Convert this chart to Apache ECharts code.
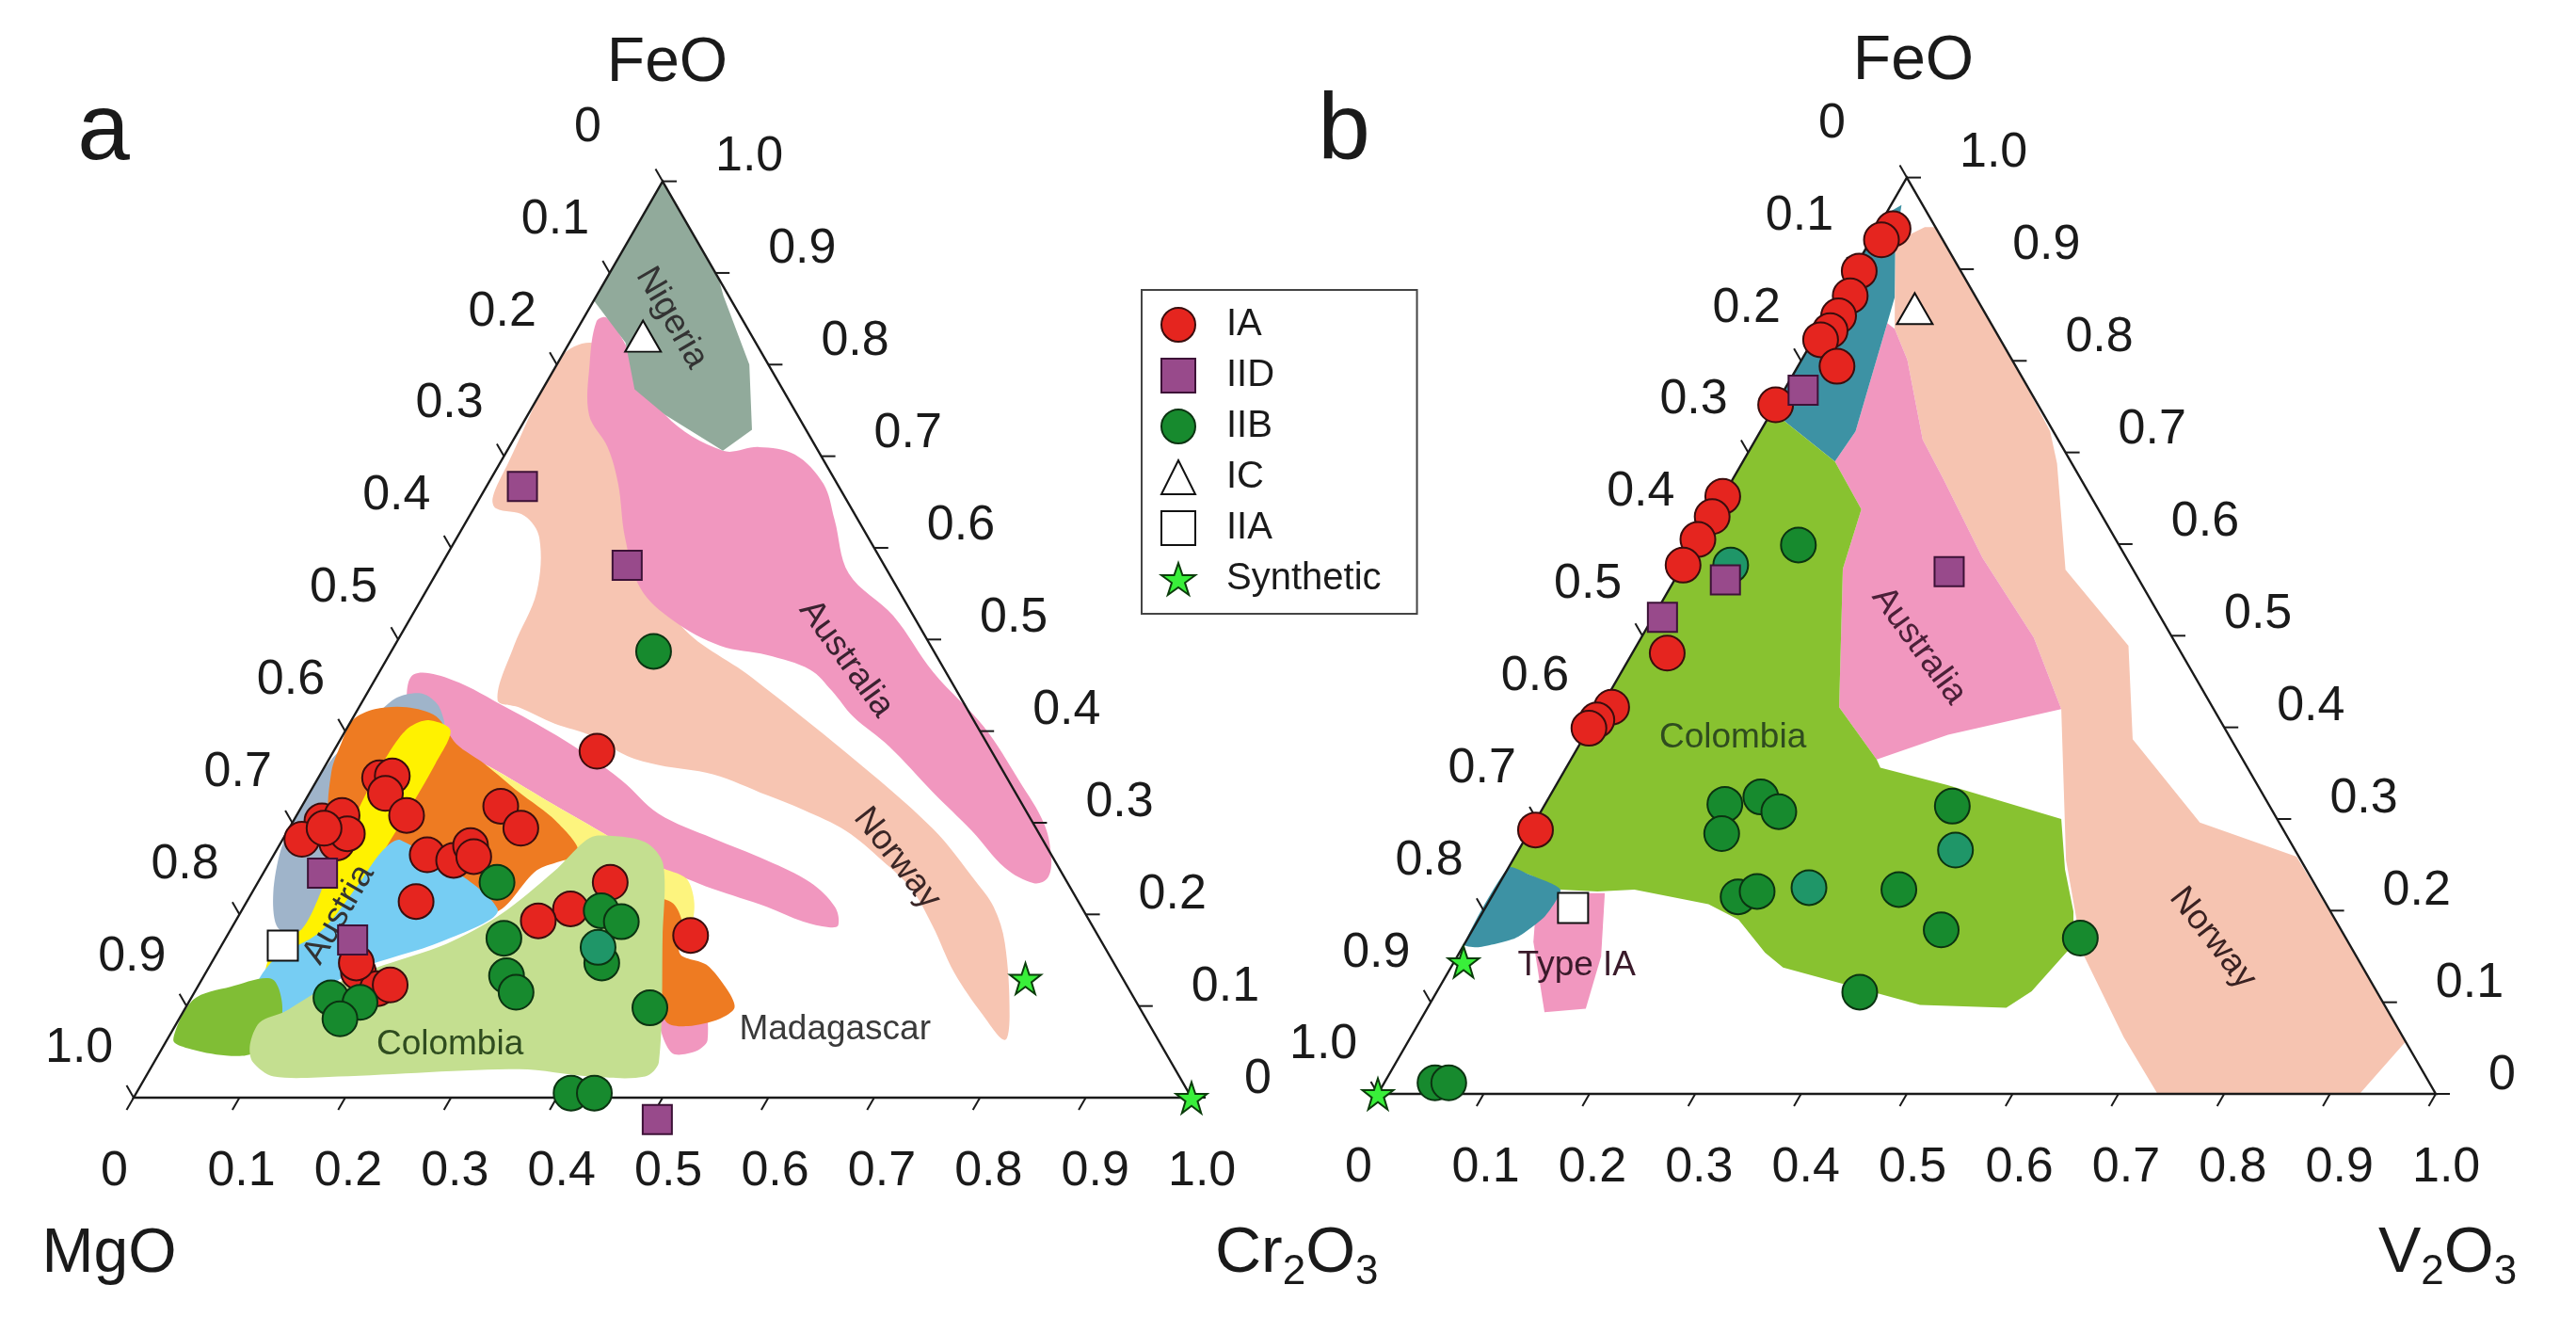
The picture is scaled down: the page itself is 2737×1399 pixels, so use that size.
<!DOCTYPE html>
<html>
<head>
<meta charset="utf-8">
<title>FeO - MgO - Cr2O3 / V2O3 ternary plots</title>
<script src="https://cdn.jsdelivr.net/npm/echarts@6/dist/echarts.min.js"></script>
<style>
html, body { margin: 0; padding: 0; background: #fff; }
#chart { width: 2737px; height: 1399px; }
</style>
</head>
<body>
<div id="chart"></div>
<script>
var FONT = '"Liberation Sans", Arial, Helvetica, sans-serif';

// values along each edge of the triangles
var ticks = [0, 0.1, 0.2, 0.3, 0.4, 0.5, 0.6, 0.7, 0.8, 0.9, 1.0];
var tickLabels = ['0', '0.1', '0.2', '0.3', '0.4', '0.5', '0.6', '0.7', '0.8', '0.9', '1.0'];

// panel a compositions: [Cr2O3, FeO], MgO is the rest
var iaA = [[0.249, 0.378], [0.058, 0.349], [0.069, 0.351], [0.072, 0.332], [0.104, 0.308],
  [0.027, 0.302], [0.043, 0.308], [0.018, 0.282], [0.053, 0.278], [0.058, 0.288], [0.033, 0.294],
  [0.188, 0.318], [0.219, 0.294], [0.145, 0.265], [0.173, 0.259], [0.181, 0.275], [0.190, 0.263],
  [0.160, 0.214], [0.333, 0.235], [0.310, 0.206], [0.286, 0.193], [0.438, 0.177],
  [0.144, 0.137], [0.171, 0.119], [0.181, 0.123], [0.137, 0.147]];
var iidA = [[0.034, 0.667], [0.176, 0.581], [0.056, 0.245], [0.121, 0.172], [0.507, -0.024]];
var iibA = [[0.248, 0.487], [0.226, 0.235], [0.263, 0.174], [0.286, 0.133], [0.304, 0.115],
  [0.340, 0.204], [0.365, 0.192], [0.369, 0.147], [0.439, 0.098], [0.132, 0.109],
  [0.162, 0.104], [0.152, 0.086], [0.411, 0.005], [0.433, 0.005]];
var iibTealA = [[0.357, 0.164]];
var icA = [[0.066, 0.831]];
var iiaA = [[0.058, 0.166]];
var synA = [[0.778, 0.130], [1.0, 0.0]];

// panel b compositions: [V2O3, FeO], MgO is the rest
var iaB = [[0.015, 0.944], [0.010, 0.932], [0.006, 0.898], [0.011, 0.871], [0.011, 0.849],
  [0.011, 0.833], [0.007, 0.823], [0.037, 0.794], [0.0, 0.752], [0.0, 0.652], [0.001, 0.630],
  [0.0, 0.605], [0.0, 0.577], [0.033, 0.481], [0.010, 0.422], [0.003, 0.408], [0.0, 0.399],
  [0.005, 0.288]];
var iidB = [[0.018, 0.768], [0.048, 0.561], [0.009, 0.520], [0.255, 0.570]];
var iibB = [[0.098, 0.599], [0.170, 0.316], [0.200, 0.324], [0.225, 0.308], [0.183, 0.284],
  [0.233, 0.215], [0.248, 0.221], [0.381, 0.223], [0.400, 0.111], [0.048, 0.012],
  [0.061, 0.012], [0.386, 0.314], [0.443, 0.179], [0.579, 0.170]];
var iibTealB = [[0.045, 0.577], [0.295, 0.225], [0.413, 0.266]];
var icB = [[0.079, 0.857]];
var iiaB = [[0.083, 0.203]];
var synB = [[0.009, 0.144], [0.0, 0.0]];

// occurrence fields, panel a
var salmonA = [[0.019, 0.824], [0, 0.808], [0.008, 0.69], [0.012, 0.655], [0.021, 0.643], [0.052, 0.635],
  [0.078, 0.611], [0.105, 0.552], [0.113, 0.493], [0.127, 0.434], [0.151, 0.426], [0.194, 0.408],
  [0.235, 0.395], [0.280, 0.373], [0.315, 0.363], [0.371, 0.353], [0.434, 0.330], [0.476, 0.314],
  [0.528, 0.291], [0.578, 0.259], [0.621, 0.228], [0.661, 0.188], [0.707, 0.137], [0.758, 0.090],
  [0.792, 0.063], [0.783, 0.090], [0.739, 0.169], [0.709, 0.208], [0.678, 0.236], [0.608, 0.294],
  [0.486, 0.376], [0.356, 0.458], [0.254, 0.520], [0.167, 0.623], [0.088, 0.746], [0.048, 0.808]];
var australiaA = [[0.022, 0.851], [0.060, 0.816], [0.130, 0.745], [0.204, 0.706], [0.236, 0.710],
  [0.274, 0.702], [0.317, 0.670], [0.347, 0.631], [0.390, 0.572], [0.455, 0.526], [0.524, 0.464],
  [0.601, 0.405], [0.664, 0.346], [0.712, 0.298], [0.738, 0.259], [0.744, 0.239], [0.734, 0.234],
  [0.698, 0.251], [0.647, 0.291], [0.588, 0.334], [0.523, 0.383], [0.472, 0.416], [0.438, 0.444],
  [0.406, 0.467], [0.357, 0.483], [0.308, 0.493], [0.249, 0.521], [0.201, 0.556], [0.159, 0.611],
  [0.123, 0.670], [0.093, 0.710], [0.058, 0.745], [0.031, 0.800], [0.014, 0.847]];
var nigeriaA = [[0, 1], [0, 0.87], [0.053, 0.824], [0.087, 0.773], [0.130, 0.745], [0.204, 0.706],
  [0.220, 0.729], [0.182, 0.800], [0.120, 0.875], [0.106, 0.894]];
var madagascarBandA = [[0.034, 0.462], [0.073, 0.456], [0.141, 0.425], [0.212, 0.390], [0.287, 0.347],
  [0.341, 0.310], [0.406, 0.283], [0.469, 0.259], [0.522, 0.235], [0.559, 0.208], [0.572, 0.188],
  [0.564, 0.186], [0.537, 0.192], [0.495, 0.208], [0.433, 0.228], [0.403, 0.239], [0.371, 0.252],
  [0.299, 0.289], [0.227, 0.325], [0.156, 0.361], [0.099, 0.386], [0.066, 0.407], [0.042, 0.433]];
var madagascarBlobA = [[0.416, 0.171], [0.477, 0.119], [0.511, 0.063], [0.505, 0.050], [0.484, 0.049], [0.452, 0.088]];
var greyA = [[0.030, 0.436], [0.052, 0.441], [0.075, 0.427], [0.094, 0.397], [0.067, 0.325], [0.086, 0.181],
  [0.062, 0.176], [0.041, 0.188], [0.020, 0.224], [0.004, 0.270], [0, 0.306], [0.002, 0.366], [0.017, 0.407]];
var paleA = [[0.065, 0.417], [0.099, 0.386], [0.156, 0.361], [0.227, 0.325], [0.299, 0.289], [0.371, 0.252],
  [0.403, 0.239], [0.424, 0.212], [0.432, 0.186], [0.409, 0.176], [0.332, 0.222], [0.225, 0.294],
  [0.137, 0.345], [0.091, 0.376]];
var orangeA = [[0.001, 0.412], [0.016, 0.424], [0.045, 0.426], [0.078, 0.416], [0.112, 0.386], [0.150, 0.364],
  [0.198, 0.333], [0.248, 0.302], [0.286, 0.268], [0.257, 0.248], [0.242, 0.203], [0.195, 0.212],
  [0.146, 0.237], [0.101, 0.258], [0.061, 0.284], [0.033, 0.304], [0.009, 0.356], [0.003, 0.386]];
var orange2A = [[0.385, 0.216], [0.404, 0.212], [0.423, 0.191], [0.438, 0.157], [0.469, 0.145], [0.503, 0.117],
  [0.519, 0.098], [0.511, 0.086], [0.485, 0.078], [0.463, 0.082], [0.442, 0.109], [0.407, 0.171]];
var austriaA = [[0.073, 0.412], [0.099, 0.401], [0.103, 0.365], [0.103, 0.310], [0.102, 0.270], [0.101, 0.239],
  [0.102, 0.196], [0.112, 0.156], [0.111, 0.137], [0.088, 0.129], [0.059, 0.133], [0.051, 0.156],
  [0.053, 0.173], [0.067, 0.184], [0.066, 0.216], [0.059, 0.255], [0.056, 0.302], [0.053, 0.349],
  [0.054, 0.388], [0.059, 0.405]];
var blueA = [[0.112, 0.281], [0.241, 0.206], [0.207, 0.171], [0.142, 0.140], [0.113, 0.109], [0.092, 0.088],
  [0.083, 0.063], [0.069, 0.068], [0.055, 0.109], [0.057, 0.150], [0.086, 0.181], [0.096, 0.232], [0.100, 0.268]];
var darkGreenA = [[0.006, 0.063], [0.003, 0.107], [0.031, 0.121], [0.067, 0.129], [0.096, 0.088],
  [0.089, 0.049], [0.064, 0.046], [0.024, 0.054]];
var colombiaA = [[0.296, 0.286], [0.344, 0.279], [0.373, 0.255], [0.412, 0.176], [0.477, 0.039], [0.472, 0.023],
  [0.420, 0.023], [0.349, 0.031], [0.182, 0.023], [0.121, 0.023], [0.093, 0.039], [0.081, 0.058],
  [0.078, 0.082], [0.096, 0.094], [0.118, 0.117], [0.157, 0.141], [0.212, 0.168], [0.247, 0.200],
  [0.274, 0.247], [0.286, 0.279]];

// occurrence fields, panel b
var norwayB = [[0.024, 0.930], [0.044, 0.946], [0.054, 0.946], [0.21, 0.79], [0.274, 0.723], [0.298, 0.688],
  [0.364, 0.572], [0.465, 0.489], [0.520, 0.387], [0.629, 0.296], [0.739, 0.259], [0.80, 0.199],
  [0.943, 0.057], [0.928, 0], [0.737, 0], [0.674, 0.062], [0.589, 0.154], [0.523, 0.255], [0.436, 0.420],
  [0.371, 0.498], [0.279, 0.585], [0.199, 0.671], [0.158, 0.714], [0.100, 0.801], [0.071, 0.835]];
var australiaB = [[0.071, 0.835], [0.100, 0.801], [0.158, 0.714], [0.199, 0.671], [0.279, 0.585], [0.371, 0.498],
  [0.436, 0.420], [0.343, 0.392], [0.289, 0.365], [0.225, 0.422], [0.153, 0.573], [0.138, 0.638],
  [0.087, 0.690], [0.090, 0.723], [0.075, 0.784], [0.061, 0.841]];
var tealTopB = [[0.01, 0.97], [0.026, 0.926], [0.054, 0.869], [0.061, 0.841], [0.075, 0.784], [0.090, 0.723],
  [0.087, 0.690], [0, 0.745], [0, 0.96]];
var colombiaB = [[0, 0.745], [0.087, 0.690], [0.138, 0.638], [0.153, 0.573], [0.225, 0.422], [0.289, 0.365],
  [0.297, 0.356], [0.370, 0.337], [0.496, 0.300], [0.527, 0.245], [0.558, 0.199], [0.576, 0.163],
  [0.562, 0.112], [0.547, 0.094], [0.464, 0.097], [0.314, 0.138], [0.289, 0.154], [0.246, 0.190],
  [0.209, 0.207], [0.131, 0.223], [0.097, 0.221], [0.061, 0.223], [0.024, 0.239], [0, 0.247]];
var typeIAB = [[0.041, 0.219], [0.105, 0.219], [0.136, 0.150], [0.150, 0.093], [0.113, 0.089], [0.064, 0.166]];
var tealLowB = [[0, 0.247], [0.024, 0.239], [0.061, 0.223], [0.061, 0.194], [0.045, 0.170], [0.015, 0.160], [0, 0.163]];

// field names and where they are written
var fieldNamesA = ['Nigeria', 'Australia', 'Norway', 'Madagascar', 'Colombia', 'Austria'];
var fieldAnchorsA = [[0.083, 0.851], [0.434, 0.479], [0.591, 0.261], [0.626, 0.074], [0.270, 0.058], [0.094, 0.200]];
var fieldAnglesA = [-60, -54, -52, 0, 0, 60];
var fieldNamesB = ['Colombia', 'Australia', 'Norway', 'Type IA'];
var fieldAnchorsB = [[0.141, 0.389], [0.267, 0.489], [0.704, 0.170], [0.118, 0.140]];
var fieldAnglesB = [0, -54, -52, 0];

// ternary -> cartesian (x along the base, y = FeO height)
function tern(p) {
  return [p[0] + p[1] / 2, p[1]];
}

var regionOrder = 0;
function regionSeries(panel, pts, color, smooth) {
  var order = regionOrder++;
  return {
    type: 'custom', xAxisIndex: panel, yAxisIndex: panel, silent: true, z: 1,
    data: [[0, 0]],
    renderItem: function (params, api) {
      var points = pts.map(function (p) { return api.coord(tern(p)); });
      return {
        type: 'polygon', z2: order,
        shape: { points: points, smooth: smooth },
        style: { fill: color }
      };
    }
  };
}

function frameSeries(panel) {
  return {
    type: 'custom', xAxisIndex: panel, yAxisIndex: panel, silent: true, z: 3,
    data: [[0, 0]],
    renderItem: function (params, api) {
      var kids = [];
      var A = api.coord(tern([0, 0])), B = api.coord(tern([1, 0])), C = api.coord(tern([0, 1]));
      kids.push({ type: 'polygon', shape: { points: [A, B, C] }, style: { fill: 'none', stroke: '#1a1a1a', lineWidth: 2.4 } });
      function tick(p, dx, dy) {
        kids.push({ type: 'line', shape: { x1: p[0], y1: p[1], x2: p[0] + dx, y2: p[1] + dy }, style: { stroke: '#1a1a1a', lineWidth: 2 } });
      }
      function label(s, x, y) {
        kids.push({ type: 'text', style: { text: s, x: x, y: y, fontSize: 52, fontFamily: FONT, fill: '#1a1a1a', align: 'left', verticalAlign: 'middle' } });
      }
      ticks.forEach(function (t, i) {
        var pb = api.coord(tern([t, 0]));
        tick(pb, -7.5, 13);
        label(tickLabels[i], pb[0] - 35 + 10 * t, pb[1] + 79);
        var pl = api.coord(tern([0, 1 - t]));
        tick(pl, -7.5, -13);
        label(tickLabels[i], pl[0] - 94, pl[1] - 57 + 5 * t);
        var pr = api.coord(tern([1 - t, t]));
        tick(pr, 15, 0);
        label(tickLabels[i], pr[0] + 56, pr[1] - 19 - 6.5 * t);
      });
      return { type: 'group', children: kids };
    }
  };
}

function fieldLabelSeries(panel, names, anchors, angles, colors) {
  return {
    type: 'custom', xAxisIndex: panel, yAxisIndex: panel, silent: true, z: 4,
    data: names.map(function (n, i) { return tern(anchors[i]); }),
    renderItem: function (params, api) {
      var i = params.dataIndex;
      var p = api.coord([api.value(0), api.value(1)]);
      return {
        type: 'text', x: p[0], y: p[1], rotation: angles[i] * Math.PI / 180,
        style: { text: names[i], fontSize: 37, fontFamily: FONT, fill: colors[i], align: 'center', verticalAlign: 'middle' }
      };
    }
  };
}

var STAR = 'path://M50,2 L61.8,36.2 L97.6,36.2 L68.6,57.4 L79.6,91.6 L50,70.4 L20.4,91.6 L31.4,57.4 L2.4,36.2 L38.2,36.2 Z';
var marks = {
  IA: { symbol: 'circle', size: 37, color: '#e5251f', border: '#3a0d0d' },
  IID: { symbol: 'rect', size: 31, color: '#984a8b', border: '#3d1237' },
  IIB: { symbol: 'circle', size: 37, color: '#178a2e', border: '#0b3311' },
  IIBteal: { symbol: 'circle', size: 37, color: '#1f9668', border: '#0b3311' },
  IC: { symbol: 'triangle', size: [38, 33], color: '#ffffff', border: '#111111' },
  IIA: { symbol: 'rect', size: 32, color: '#ffffff', border: '#111111' },
  Synthetic: { symbol: STAR, size: 33, color: '#39ef3a', border: '#0b3d0b' }
};

function pointSeries(name, panel, pts, key) {
  var m = marks[key || name];
  return {
    name: name, type: 'scatter', xAxisIndex: panel, yAxisIndex: panel, clip: false, z: 5,
    symbol: m.symbol, symbolSize: m.size,
    itemStyle: { color: m.color, borderColor: m.border, borderWidth: 2, opacity: 1 },
    emphasis: { disabled: true },
    data: pts.map(tern)
  };
}

var series = [
  // panel a fields
  regionSeries(0, salmonA, '#f7c5b2', 0.35),
  regionSeries(0, australiaA, '#f197bf', 0.35),
  regionSeries(0, nigeriaA, '#91aa9b', 0),
  regionSeries(0, madagascarBandA, '#f197bf', 0.35),
  regionSeries(0, madagascarBlobA, '#f197bf', 0.3),
  regionSeries(0, greyA, '#9fb4ca', 0.3),
  regionSeries(0, paleA, '#fdf47e', 0.3),
  regionSeries(0, orangeA, '#ee7b22', 0.3),
  regionSeries(0, orange2A, '#ee7b22', 0.3),
  regionSeries(0, austriaA, '#fff200', 0.3),
  regionSeries(0, blueA, '#76cdf3', 0.3),
  regionSeries(0, darkGreenA, '#80be35', 0.3),
  regionSeries(0, colombiaA, '#c4df90', 0.3),
  // panel b fields
  regionSeries(1, norwayB, '#f6c4b1', 0),
  regionSeries(1, australiaB, '#f197bf', 0),
  regionSeries(1, tealTopB, '#3d92a4', 0),
  regionSeries(1, colombiaB, '#88c230', 0),
  regionSeries(1, typeIAB, '#f197bf', 0),
  regionSeries(1, tealLowB, '#3d92a4', 0.2),
  frameSeries(0),
  frameSeries(1),
  fieldLabelSeries(0, fieldNamesA, fieldAnchorsA, fieldAnglesA, ['#333333', '#3a2230', '#3a2626', '#3a3a3a', '#2f4c1f', '#333333']),
  fieldLabelSeries(1, fieldNamesB, fieldAnchorsB, fieldAnglesB, ['#2f4c1f', '#4b2038', '#3a2222', '#3a1a2a']),
  pointSeries('IA', 0, iaA),
  pointSeries('IID', 0, iidA),
  pointSeries('IIB', 0, iibA),
  pointSeries('IIB', 0, iibTealA, 'IIBteal'),
  pointSeries('IC', 0, icA),
  pointSeries('IIA', 0, iiaA),
  pointSeries('Synthetic', 0, synA),
  pointSeries('IIB', 1, iibB),
  pointSeries('IIB', 1, iibTealB, 'IIBteal'),
  pointSeries('IA', 1, iaB),
  pointSeries('IID', 1, iidB),
  pointSeries('IC', 1, icB),
  pointSeries('IIA', 1, iiaB),
  pointSeries('Synthetic', 1, synB)
];

function titleText(x, y, text, size, align) {
  return { type: 'text', x: x, y: y, silent: true, style: { text: text, fontSize: size, fontFamily: FONT, fill: '#1a1a1a', align: align || 'center', verticalAlign: 'middle' } };
}
// oxide name with subscripts, written piece by piece from its left edge
function formula(x, y, parts) {
  var els = [];
  var cx = x;
  parts.forEach(function (s, i) {
    var sub = i % 2 === 1;
    var size = sub ? 44 : 68;
    els.push(titleText(cx, sub ? y + 20 : y, s, size, 'left'));
    cx += echarts.format.getTextRect ? echarts.format.getTextRect(s, size + 'px ' + FONT).width : s.length * size * 0.6;
  });
  return els;
}

var chart = echarts.init(document.getElementById('chart'), null, { renderer: 'canvas' });
chart.setOption({
  animation: false,
  backgroundColor: '#ffffff',
  grid: [
    { left: 142, top: 192.6, width: 1124, height: 973.4 },
    { left: 1464, top: 188.6, width: 1124, height: 973.4 }
  ],
  xAxis: [
    { gridIndex: 0, type: 'value', min: 0, max: 1, show: false },
    { gridIndex: 1, type: 'value', min: 0, max: 1, show: false }
  ],
  yAxis: [
    { gridIndex: 0, type: 'value', min: 0, max: 1, show: false },
    { gridIndex: 1, type: 'value', min: 0, max: 1, show: false }
  ],
  legend: {
    data: ['IA', 'IID', 'IIB', 'IC', 'IIA', 'Synthetic'],
    orient: 'vertical', left: 1213, top: 308,
    padding: [17, 38, 17, 20], itemGap: 14, itemWidth: 36, itemHeight: 36,
    borderColor: '#444', borderWidth: 2, backgroundColor: '#fff',
    selectedMode: false,
    textStyle: { fontSize: 40, fontFamily: FONT, color: '#1a1a1a', padding: [0, 0, 0, 28] }
  },
  graphic: [
    titleText(110, 141, 'a', 100),
    titleText(1428, 141, 'b', 100),
    titleText(709, 68, 'FeO', 66),
    titleText(2033, 66, 'FeO', 66),
    titleText(116, 1333, 'MgO', 66)
  ].concat(formula(1291, 1332, ['Cr', '2', 'O', '3']), formula(2527, 1332, ['V', '2', 'O', '3'])),
  series: series
});
</script>
</body>
</html>
